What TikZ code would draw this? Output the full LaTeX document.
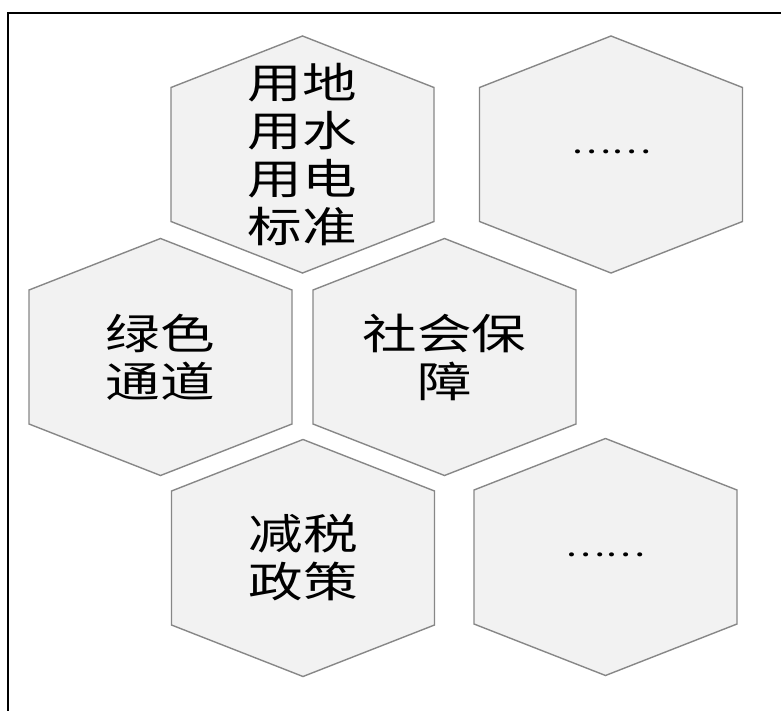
\documentclass[tikz,border=0pt]{standalone}
\usepackage{fontspec}
\newfontfamily\cjk[FakeStretch=1.3]{Noto Sans CJK SC}
\definecolor{hexfill}{HTML}{F2F2F2}
\definecolor{hexline}{HTML}{878787}
\begin{document}
\begin{tikzpicture}[x=1pt,y=-1pt,
  hexcell/.style={draw=hexline,fill=hexfill,line width=1.4pt,line join=miter},
  hextext/.style={inner sep=0pt,align=center,font=\cjk\fontsize{42}{48}\selectfont},
  dottext/.style={inner sep=0pt,font=\cjk\fontsize{29}{34}\selectfont,yshift=2.5pt},
  frameline/.style={draw=black,line width=2pt}]
\useasboundingbox (0,0) rectangle (781,711);
\clip (0,0) rectangle (781,711);
\draw[frameline] (8,13) rectangle (800,740);
\foreach \n/\cx/\cy in {c1/302.5/154.5, c2/611/154.5, c3/160.5/357, c4/444.5/357, c5/303/558, c6/605.5/557}{
  \coordinate (\n) at (\cx,\cy);
  \path[hexcell] (\n) +(0,-118.5) -- +(131.5,-67) -- +(131.5,67) -- +(0,118.5) -- +(-131.5,67) -- +(-131.5,-67) -- cycle;
}
\node[hextext] (t1) at (c1) {用地\\用水\\用电\\标准};
\node[dottext] (t2) at (c2) {……};
\node[hextext] (t3) at (c3) {绿色\\通道};
\node[hextext] (t4) at (c4) {社会保\\障};
\node[hextext] (t5) at (c5) {减税\\政策};
\node[dottext] (t6) at (c6) {……};
\end{tikzpicture}
\end{document}
